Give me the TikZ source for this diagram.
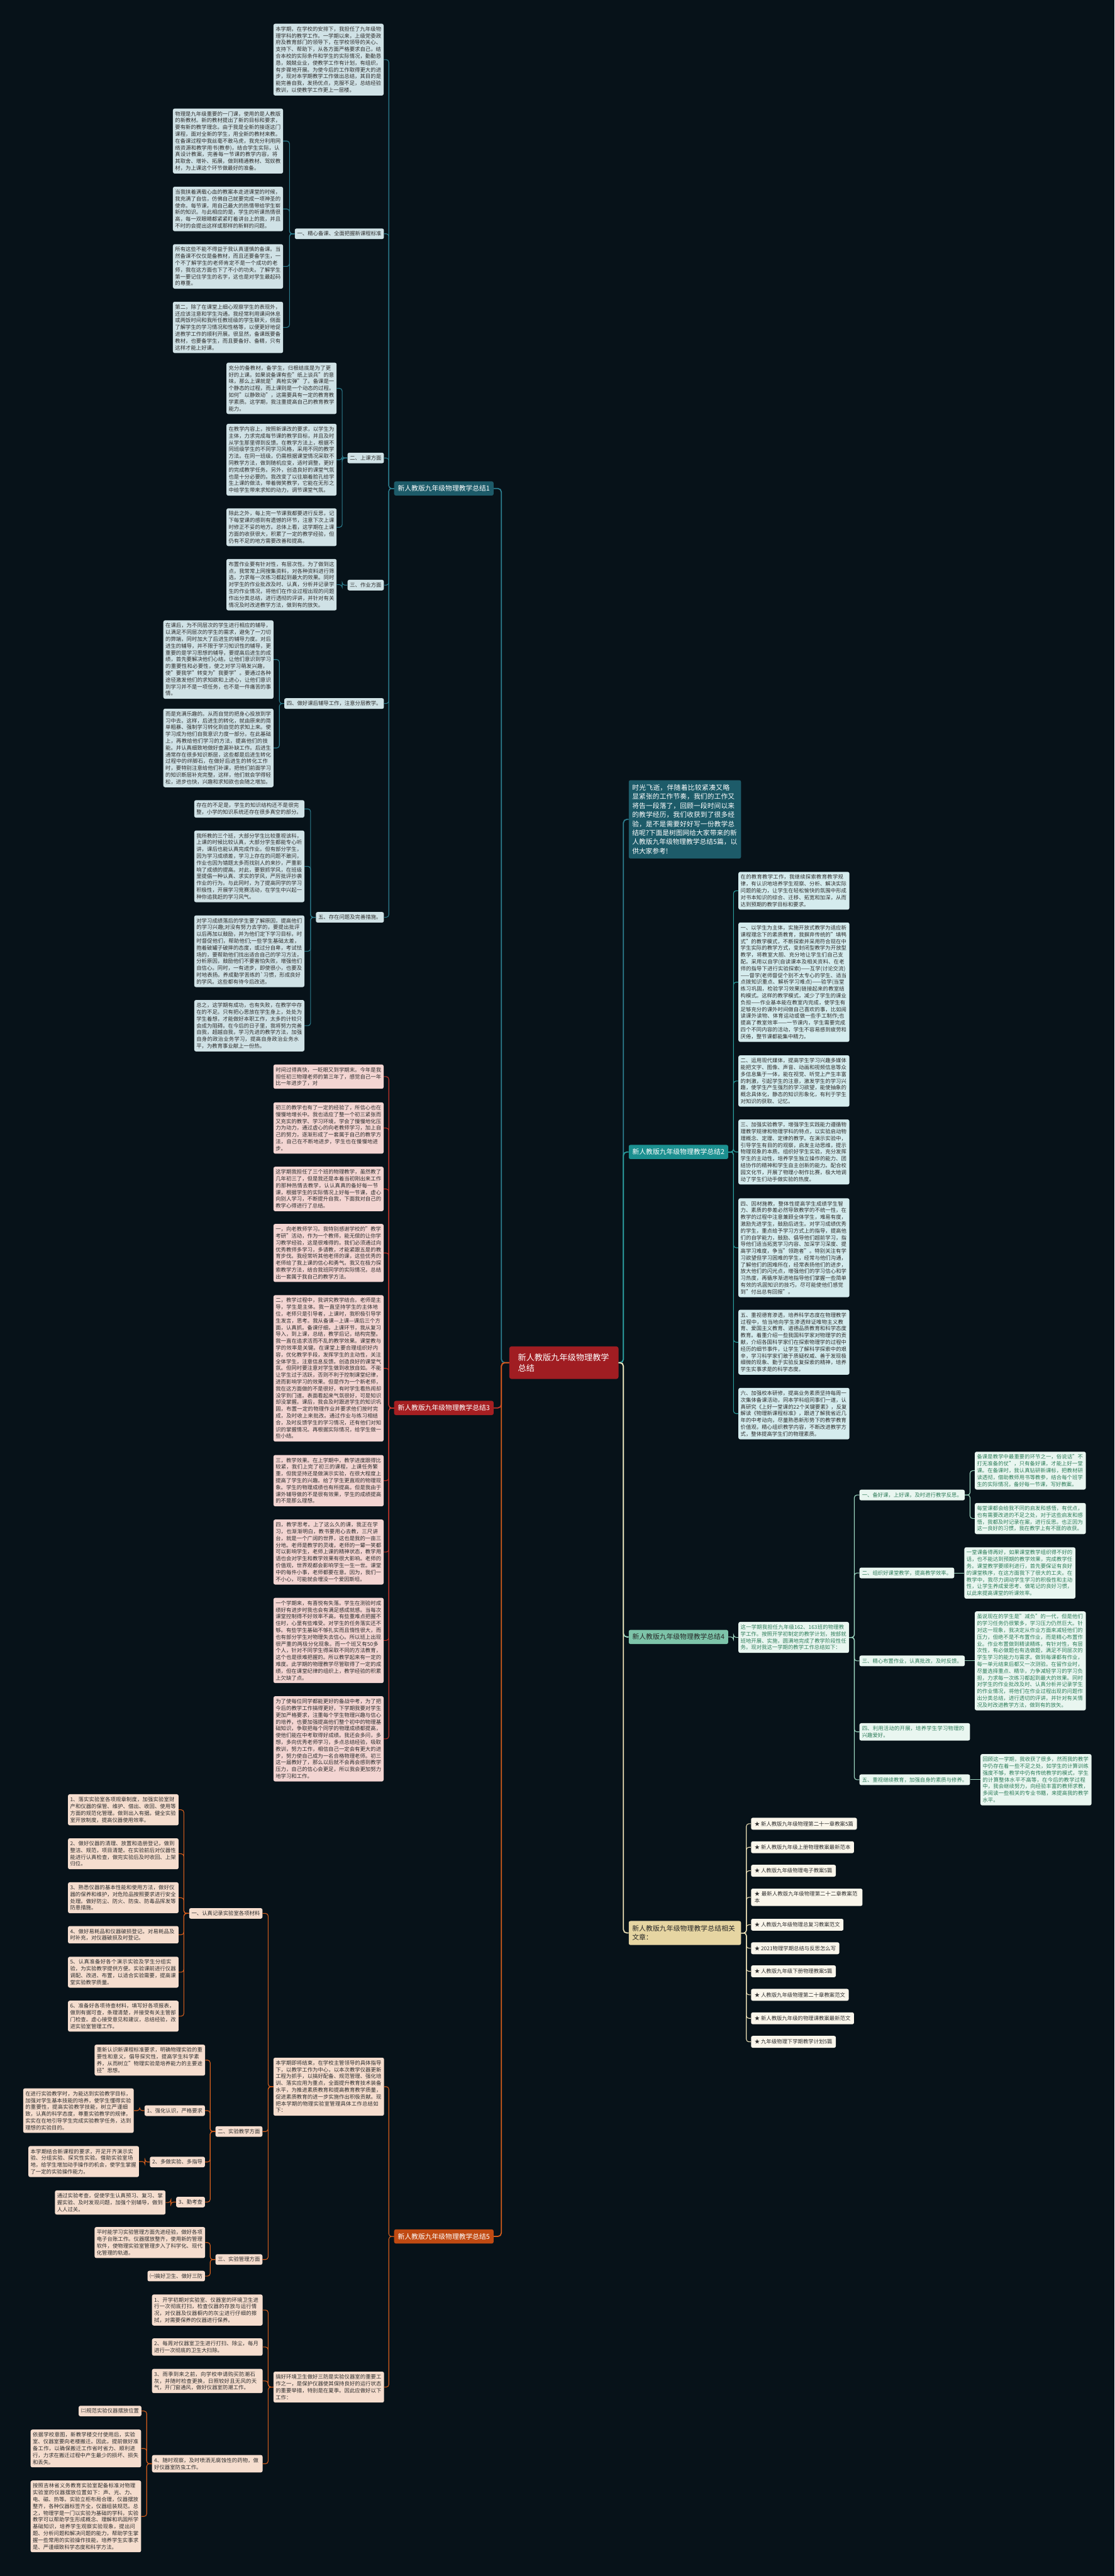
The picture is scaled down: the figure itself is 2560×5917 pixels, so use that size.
\documentclass[tikz,border=0pt]{standalone}
\usepackage{fontspec}
\setmainfont{Noto Sans CJK SC}
\XeTeXlinebreaklocale "zh"
\XeTeXlinebreakskip = 0pt plus 1pt

\definecolor{bgcol}{HTML}{071219}
\definecolor{ctrfill}{HTML}{A01D22}
\definecolor{onefill}{HTML}{1D5B69}
\definecolor{oneleaf}{HTML}{D0E2E6}
\definecolor{oneline}{HTML}{2C7D8E}
\definecolor{twofill}{HTML}{1B9090}
\definecolor{twoleaf}{HTML}{D5ECEE}
\definecolor{twoline}{HTML}{2A9C9C}
\definecolor{threefill}{HTML}{A61F22}
\definecolor{threeleaf}{HTML}{F3D5D2}
\definecolor{threeline}{HTML}{C1342B}
\definecolor{fourfill}{HTML}{7DC4A9}
\definecolor{fourleaf}{HTML}{E9F6F0}
\definecolor{fourtext}{HTML}{2E7D5A}
\definecolor{fourline}{HTML}{9FD9C2}
\definecolor{fivefill}{HTML}{C04A12}
\definecolor{fiveleaf}{HTML}{F5DDCE}
\definecolor{fiveline}{HTML}{D25C1C}
\definecolor{relfill}{HTML}{E6D5A2}
\definecolor{relleaf}{HTML}{FAF6EB}
\definecolor{relline}{HTML}{E9DDB4}

\tikzset{
  box/.style={rounded corners=4pt, inner xsep=5pt, inner ysep=6.5pt,
    font=\fontsize{12.1}{15.6}\selectfont, text=black!82},
  leaf/.style={box, text width=243pt, align=left},
  topic/.style={box, inner xsep=5.5pt},
  branch/.style={rounded corners=4pt, inner xsep=8.5pt, inner ysep=9pt,
    font=\fontsize{15.6}{20.7}\selectfont},
  link/.style={line width=1.6pt, rounded corners=6pt},
  trunk/.style={line width=2.6pt, rounded corners=8pt}
}

\begin{document}
\begin{tikzpicture}[x=1pt, y=-1pt]
\fill[bgcol] (0,0) rectangle (2560,5917);
\useasboundingbox (0,0) rectangle (2560,5917);

% centre
\node[rounded corners=5pt, fill=ctrfill, text=white, anchor=east,
  text width=211pt, align=left, inner xsep=20pt, inner ysep=16pt,
  font=\fontsize{19}{25}\selectfont] (ctr) at (1421,3130) {新人教版九年级物理教学总结};

% main branches
\node[branch, fill=onefill, text=white, anchor=east] (b1) at (1134,1122) {新人教版九年级物理教学总结1};
\node[branch, fill=threefill, text=white, anchor=east] (b3) at (1134,3234) {新人教版九年级物理教学总结3};
\node[branch, fill=fivefill, text=white, anchor=east] (b5) at (1134,5137) {新人教版九年级物理教学总结5};
\node[branch, fill=onefill, text=white, anchor=west, text width=242pt, align=left,
  inner xsep=8pt, inner ysep=10pt, font=\fontsize{15.5}{20.8}\selectfont] (intro) at (1444,1882)
  {时光飞逝，伴随着比较紧凑又略显紧张的工作节奏，我们的工作又将告一段落了，回顾一段时间以来的教学经历，我们收获到了很多经验，是不是需要好好写一份教学总结呢?下面是树图网给大家带来的新人教版九年级物理教学总结5篇，以供大家参考!};
\node[branch, fill=twofill, text=white, anchor=west] (b2) at (1444,2646) {新人教版九年级物理教学总结2};
\node[branch, fill=fourfill, text=black!85, anchor=west] (b4) at (1444,3760) {新人教版九年级物理教学总结4};
\node[branch, fill=relfill, text=black!85, anchor=west, text width=242pt, align=left,
  inner xsep=8pt, inner ysep=10pt] (rel) at (1444,4440) {新人教版九年级物理教学总结相关文章：};

\foreach \b/\c in {b1/oneline, b3/threeline, b5/fiveline}
  \draw[trunk, \c] (ctr.west) -- ++(-18,0) |- (\b.east);
\foreach \b/\c in {intro/oneline, b2/twoline, b4/fourline, rel/relline}
  \draw[trunk, \c] (ctr.east) -- ++(11,0) |- (\b.west);

% ---------- summary 1
\tikzset{leaf1/.style={leaf, fill=oneleaf}, topic1/.style={topic, fill=oneleaf}}
\node[leaf1, anchor=west] (A1) at (628,137) {本学期，在学校的安排下，我担任了九年级物理学科的教学工作。一学期以来，上级党委政府及教育部门的领导下，在学校领导的关心、支持下、帮助下，从各方面严格要求自己，结合本校的实际条件和学生的实际情况，勤勤恳恳，兢兢业业，使教学工作有计划，有组织，有步骤地开展。为使今后的工作取得更大的进步，现对本学期教学工作做出总结，其目的是能完善自我，发扬优点，克服不足，总结经验教训，以使教学工作更上一层楼。};
\node[topic1, anchor=east] (s11) at (882,537) {一、精心备课、全面把握新课程标准};
\node[topic1, anchor=east] (s12) at (882,1052) {二、上课方面};
\node[topic1, anchor=east] (s13) at (882,1344) {三、作业方面};
\node[topic1, anchor=east] (s14) at (882,1616) {四、做好课后辅导工作，注意分层教学。};
\node[topic1, anchor=east] (s15) at (882,2107) {五、存在问题及完善措施。};

\node[leaf1, anchor=west] (B1) at (397,324) {物理是九年级重要的一门课，使用的是人教版的新教材。新的教材提出了新的目标和要求，要有新的教学理念。由于我是全新的接逐这门课程，面对全新的学生，用全新的教材来教。在备课过程中我丝毫不敢马虎，我充分利用网络资源和教学用书(教参)，结合学生实际，认真设计教案，完善每一节课的教学内容，将其取舍、增补、拓展，做到精通教材、驾奴教材，为上课这个环节做最好的准备。};
\node[leaf1, anchor=west] (B2) at (397,480) {当我挟着满载心血的教案本走进课堂的时候，我充满了自信，仿佛自己就要完成一项神圣的使命。每节课，用自己最大的热情带给学生崭新的知识。与此相应的是，学生的听课热情很高，每一双眼睛都紧紧盯着讲台上的我，并且不时的会提出这样或那样的新鲜的问题。};
\node[leaf1, anchor=west] (B3) at (397,612) {所有这些不能不得益于我认真谨慎的备课。当然备课不仅仅是备教材，而且还要备学生，一个不了解学生的老师肯定不是一个成功的老师，我在这方面也下了不小的功夫。了解学生第一要记住学生的名字，这也是对学生最起码的尊重。};
\node[leaf1, anchor=west] (B4) at (397,752) {第二，除了在课堂上细心观察学生的表现外，还应该注意和学生沟通。我经常利用课间休息或两饭时间和我所任教班级的学生聊天，侧面了解学生的学习情况和性格等，以便更好地促进教学工作的顺利开展。很显然，备课既要备教材，也要备学生，而且要备好、备精，只有这样才能上好课。};
\node[leaf1, anchor=west] (C1) at (520,892) {充分的备教材，备学生，归根结底是为了更好的上课。如果说备课有些"纸上谈兵"的意味，那么上课就是"真枪实弹"了。备课是一个静态的过程，而上课则是一个动态的过程。如何"以静致动"，这需要具有一定的教育教学素质。这学期，我注重提高自己的教育教学能力。};
\node[leaf1, anchor=west] (C2) at (520,1056) {在教学内容上，按照新课改的要求，以学生为主体，力求完成每节课的教学目标，并且及时从学生那里得到反馈。在教学方法上，根据不同班级学生的不同学习风格，采用不同的教学方法。在同一班级，仍需根据课堂情况采取不同教学方法，做到随机应变，适时调整，更好的完成教学任务。另外，创造良好的课堂气氛也是十分必要的。我改变了以往崩着脸孔给学生上课的做法，带着微笑教学，它能在无形之中给学生带来求知的动力，调节课堂气氛。};
\node[leaf1, anchor=west] (C3) at (520,1211) {除此之外，每上完一节课我都要进行反思，记下每堂课的感到有遗憾的环节，注意下次上课时修正不妥的地方。总体上看，这学期在上课方面的收获很大，积累了一定的教学经验，但仍有不足的地方需要改善和提高。};
\node[leaf1, anchor=west] (D1) at (520,1343) {布置作业要有针对性，有层次性。为了做到这点，我常常上网搜集资料，对各种资料进行筛选，力求每一次练习都起到最大的效果。同时对学生的作业批改及时、认真，分析并记录学生的作业情况，将他们在作业过程出现的问题作出分类总结，进行透彻的评讲，并针对有关情况及时改进教学方法，做到有的放矢。};
\node[leaf1, anchor=west] (E1) at (375,1515) {在课后，为不同层次的学生进行相应的辅导，以满足不同层次的学生的需求，避免了一刀切的弊端，同时加大了后进生的辅导力度。对后进生的辅导，并不限于学习知识性的辅导，更重要的是学习思想的辅导，要提高后进生的成绩，首先要解决他们心结，让他们意识到学习的重要性和必要性，使之对学习萌发兴趣，使"要我学"转变为"我要学"。要通过各种途径激发他们的求知欲和上进心，让他们意识到学习并不是一项任务，也不是一件痛苦的事情。};
\node[leaf1, anchor=west] (E2) at (375,1718) {而是充满乐趣的。从而自觉的把身心投放到学习中去。这样，后进生的转化，就由原来的简单粗暴、强制学习转化到自觉的求知上来。使学习成为他们自我意识力度一部分。在此基础上，再教给他们学习的方法，提高他们的技能。并认真细致地做好查漏补缺工作。后进生通常存在很多知识断层，这些都是后进生转化过程中的绊脚石，在做好后进生的转化工作时，要特别注意给他们补课，把他们前面学习的知识断层补充完整，这样，他们就会学得轻松，进步也快，兴趣和求知欲也会随之增加。};
\node[leaf1, anchor=west] (F1) at (446,1858) {存在的不足是，学生的知识结构还不是很完整，小学的知识系统还存在很多真空的部分。};
\node[leaf1, anchor=west] (F2) at (446,1990) {我所教的三个班，大部分学生比较重视该科，上课的时候比较认真，大部分学生都能专心听讲，课后也能认真完成作业。但有部分学生，因为学习成绩差，学习上存在的问题不敢问，作业也因为错题太多而找别人的来抄，严重影响了成绩的提高。对此，要狠抓学风，在班级里提倡一种认真、求实的学风，严厉批评抄袭作业的行为。与此同时，为了提高同学的学习积极性，开展学习竞赛活动，在学生中兴起一种你追我赶的学习风气。};
\node[leaf1, anchor=west] (F3) at (446,2185) {对学习成绩落后的学生要了解原因，提高他们的学习兴趣;对没有努力去学的，要提出批评以后再加以鼓励，并为他们定下学习目标，时时督促他们，帮助他们;一些学生基础太差，抱着破罐子破摔的态度，或过分自卑，考试怯场的，要帮助他们找出适合自己的学习方法，分析原因，鼓励他们不要害怕失败，增强他们自信心。同时，一有进步，即使很小，也要及时地表扬。养成勤学苦练的\textasciigrave 习惯，形成良好的学风。这些都有待今后改进。};
\node[leaf1, anchor=west] (F4) at (446,2356) {总之，这学期有成功，也有失败，在教学中存在的不足。只有把心思放在学生身上，处处为学生着想，才能做好本职工作，太多的计较只会成为阻碍。在今后的日子里，我将努力完善自我，超越自我，学习先进的教学方法，加强自身的政治业务学习，提高自身政治业务水平，为教育事业献上一份热。};

\foreach \c in {A1,s11,s12,s13,s14,s15} \draw[link, oneline] (b1.west) -- ++(-12,0) |- (\c.east);
\foreach \c in {B1,B2,B3,B4} \draw[link, oneline] (s11.west) -- ++(-12,0) |- (\c.east);
\foreach \c in {C1,C2,C3} \draw[link, oneline] (s12.west) -- ++(-12,0) |- (\c.east);
\draw[link, oneline] (s13.west) -- ++(-12,0) |- (D1.east);
\foreach \c in {E1,E2} \draw[link, oneline] (s14.west) -- ++(-11,0) |- (\c.east);
\foreach \c in {F1,F2,F3,F4} \draw[link, oneline] (s15.west) -- ++(-12,0) |- (\c.east);

% ---------- summary 3
\tikzset{leaf3/.style={leaf, fill=threeleaf}}
\node[leaf3, anchor=west] (G1) at (628,2473) {时间过得真快，一眨眼又到学期末。今年是我担任初三物理老师的第三年了，感觉自己一年比一年进步了，对};
\node[leaf3, anchor=west] (G2) at (628,2591) {初三的教学也有了一定的经验了，所信心也在慢慢地增长中。我也适应了整一个初三紧张而又充实的教学、学习环境，学会了慢慢地化压力为动力，通过虚心的向老教师学习，加上自己的努力，逐渐形成了一套属于自己的教学方法，自己在不断地进步，学生也在慢慢地进步。};
\node[leaf3, anchor=west] (G3) at (628,2731) {这学期我担任了三个班的物理教学，虽然教了几年初三了，但是我还是本着当初刚出来工作的那种热情去教学，认认真真的备好每一节课，根据学生的实际情况上好每一节课，虚心向别人学习，不断提升自我，下面我对自己的教学心得进行了总结。};
\node[leaf3, anchor=west] (G4) at (628,2878) {一，向老教师学习。我特别感谢学校的"教学考研"活动，作为一个教师，能无偿的让你学习教学经验，这是很难得的。我们必须通过向优秀教师多学习，多请教，才能紧跟五是的教育步伐。我经常听其他老师的课，这些优秀的老师给了我上课的信心和勇气。我又在极力探索教学方法，结合我班同学的实际情况，总结出一套属于我自己的教学方法。};
\node[leaf3, anchor=west] (G5) at (628,3143) {二，教学过程中，我讲究教学结合。老师是主导，学生是主体。我一直坚持学生的主体地位，老师只是引导者，上课时，我积极引导学生发言，思考。我从备课—上课—课后三个方面，认真抓。备课仔细，上课环节，我从复习导入，到上课，总结，教学后记，结构完整。我一直在追求活而不乱的教学效果。课堂教与学的效率是关键。在课堂上要合理组织好内容，优化教学手段，发挥学生的主动性，关注全体学生，注意信息反馈。创造良好的课堂气氛。但同时要注意对学生做到收放自如。不能让学生过于活跃，否则不利于控制课堂纪律，进而影响学习的效果。但是作为一个新老师，我在这方面做的不是很好，有时学生看热闹却没学到门道。表面看起来气氛很好，可是知识却没掌握。课后，我会及时跟进学生的知识巩固，布置一定的物理作业并要求他们按时完成，及时收上来批改。通过作业与练习相结合，及时反馈学生的学习情况，还有他们对知识的掌握情况。再根据实际情况，给学生做一些小结。};
\node[leaf3, anchor=west] (G6) at (628,3401) {三，教学效果。在上学期中，教学进度跟得比较紧，我们上完了初三的课程，上课任务繁重，但我坚持还是做演示实验，在很大程度上提高了学生的兴趣。给了学生更直观的物理现象。学生的物理成绩也有所提高。但是我由于课外辅导做的不是很有效果，学生的成绩提高的不是那么理想。};
\node[leaf3, anchor=west] (G7) at (628,3565) {四，教学思考。上了这么久的课，我正在学习，也渐渐明白，教书要用心去教，三尺讲台，就是一个广阔的世界，这也是我的一亩三分地。老师是教学的灵魂，老师的一颦一笑都可以影响学生，老师上课的精神状态，教学用语也会对学生和教学效果有很大影响。老师的价值观，世界观都会影响学生一生一世。课堂中的每件小事，老师都要在意。因为，我们一不小心，可能就会埋没一个爱因斯坦。};
\node[leaf3, anchor=west] (G8) at (628,3768) {一个学期来，有喜悦有失落。学生在测验时成绩好有进步时我也会有满足感成就感。当每次课堂控制得不好效率不高，有些重难点把握不住时，心里有些难受。对学生的任务落实还不够。有些学生基础不够扎实而且惰性很大，而也有部分学生对物理失去信心。所以班上出现很严重的两极分化现象。而一个班又有50多个人，针对不同学生得采取不同的方法教育，这个也是很难把握的。所以教学起来有一定的难度。此学期的物理教学尽管取得了一定的成绩，但在课堂纪律的组织上，教学经验的积累上欠缺了点。};
\node[leaf3, anchor=west] (G9) at (628,3994) {为了使每位同学都能更好的备战中考，为了把今后的教学工作搞得更好，下学期我要对学生更加严格要求，注重每个学生物理兴趣与信心的培养，也要加强提高他们整个初中的物理基础知识，争取把每个同学的物理成绩都提高，使他们能在中考取得好成绩。我还会多问，多想，多向优秀老师学习，多点总结经验，吸取教训，努力工作，相信自己一定会有更大的进步，努力使自己成为一名合格物理老师。初三这一届教好了，那么以后就不会再会感到教学压力，自己的信心会更足，所以我会更加努力地学习和工作。};
\foreach \c in {G1,G2,G3,G4,G5,G6,G7,G8,G9} \draw[link, threeline] (b3.west) -- ++(-12,0) |- (\c.east);

% ---------- summary 5
\tikzset{leaf5/.style={leaf, fill=fiveleaf, text width=244pt}, topic5/.style={topic, fill=fiveleaf}}
\node[leaf5, anchor=west] (H0) at (628,4793) {本学期即将结束，在学校主管领导的具体指导下，以教学工作为中心，以本次教学仪器更新工程为抓手，以搞好配备、规范管理、强化培训、落实应用为重点，全面提升教育技术装备水平，为推进素质教育和提高教育教学质量，促进素质教育的进一步实施作出积极贡献。现把本学期的物理实验室管理具体工作总结如下：};
\node[leaf5, anchor=west] (H4) at (628,5483) {搞好环境卫生做好三防是实验仪器室的重要工作之一，是保护仪器使其保持良好的运行状态的重要举措，特别是在夏季。因此应做好以下工作：};
\node[topic5, anchor=east] (s51) at (603,4395) {一、认真记录实验室各项材料};
\node[topic5, anchor=east] (s52) at (603,4896) {二、实验教学方面};
\node[topic5, anchor=east] (s53) at (603,5190) {三、实验管理方面};
\node[leaf5, anchor=west] (I1) at (156,4157) {1、落实实验室各项规章制度，加强实验室财产和仪器的保管、维护、借出、收回、使用等方面的规范化管理。做到出入有据。健全实验室开放制度，提高仪器使用效率。};
\node[leaf5, anchor=west] (I2) at (156,4258) {2、做好仪器的清理、放置和造册登记，做到整洁、规范，项目清楚。在实验前后对仪器性能进行认真检查，做完实验后及时收回、上架归位。};
\node[leaf5, anchor=west] (I3) at (156,4359) {3、熟悉仪器的基本性能和使用方法，做好仪器的保养和维护，对危险品按照要求进行安全处理。做好防尘、防火、防虫、防毒品挥发等防患措施。};
\node[leaf5, anchor=west] (I4) at (156,4444) {4、做好易耗品和仪器破损登记。对易耗品及时补充，对仪器破损及时登记。};
\node[leaf5, anchor=west] (I5) at (156,4530) {5、认真准备好各个演示实验及学生分组实验，为实验教学提供方便。实验课前进行仪器调配、改进、布置，以适合实验需要，提高课堂实验教学质量。};
\node[leaf5, anchor=west] (I6) at (156,4631) {6、准备好各项待查材料，填写好各项报表，做到有据可查，条理清楚，并接受有关主管部门检查。虚心接受意见和建议，总结经验，改进实验室管理工作。};
\node[leaf5, anchor=west] (J0) at (217,4732) {重新认识新课程标准要求，明确物理实验的重要性和意义，倡导探究性，提高学生科学素养，从而树立"物理实验是培养能力的主要途径"思想。};
\node[topic5, anchor=east] (t1) at (471,4848) {1、强化认识，严格要求};
\node[topic5, anchor=east] (t2) at (471,4966) {2、多做实验、多指导};
\node[topic5, anchor=east] (t3) at (471,5058) {3、勤考查};
\node[leaf5, anchor=west] (J1) at (53,4848) {在进行实验教学时，为能达到实验教学目标，加强对学生基本技能的培养，使学生懂得实验的重要性，提高实验教学技能，树立严谨细致，认真的科学态度，尊重实验教学的规律，实实在在地引导学生完成实验教学任务，达到理想的实验目的。};
\node[leaf5, anchor=west] (J2) at (65,4965) {本学期结合新课程的要求，开足开齐演示实验、分组实验、探究性实验。借助实验室场地，给学生增加动手操作的机会，使学生掌握了一定的实验操作能力。};
\node[leaf5, anchor=west] (J3) at (126,5059) {通过实验考查，促使学生认真预习、复习、掌握实验、及时发现问题，加强个别辅导，做到人人过关。};
\node[leaf5, anchor=west] (K1) at (217,5151) {平时能学习实验管理方面先进经验，做好各项电子台账工作。仪器摆放整齐，使用新的管理软件，使物理实验室管理步入了科学化、现代化管理的轨道。};
\node[topic5, anchor=east] (K2) at (471,5228) {㈠搞好卫生、做好三防};
\node[leaf5, anchor=west] (L1) at (349,5306) {1、开学初期对实验室、仪器室的环境卫生进行一次彻底打扫，检查仪器的存放与运行情况，对仪器及仪器橱内的灰尘进行仔细的擦拭，对需要保养的仪器进行保养。};
\node[leaf5, anchor=west] (L2) at (349,5391) {2、每周对仪器室卫生进行打扫、除尘，每月进行一次彻底的卫生大扫除。};
\node[leaf5, anchor=west] (L3) at (349,5469) {3、雨季到来之前，向学校申请购买防潮石灰，并随时检查更换，日照较好且无风的天气，开门窗通风，做好仪器室防潮工作。};
\node[leaf5, anchor=west] (L4) at (349,5659) {4、随时观察，及时喷洒无腐蚀性的药物，做好仪器室防虫工作。};
\node[topic5, anchor=east] (M0) at (325,5538) {㈡规范实验仪器摆放位置};
\node[leaf5, anchor=west] (M1) at (70,5624) {依据学校意图，新教学楼交付使用后，实验室、仪器室要向老楼搬迁。因此，提前做好准备工作，以确保搬迁工作省时省力、顺利进行，力求在搬迁过程中产生最少的损坏、损失和丢失。};
\node[leaf5, anchor=west] (M2) at (70,5780) {按照吉林省义务教育实验室配备标准对物理实验室的仪器摆放位置如下：声、光、力、电、磁、热等。实验立柜布局合理，仪器摆放整齐，各种仪器标签齐全，仪器组装规范。总之，物理学是一门以实验为基础的学科，实验教学可以帮助学生形成概念、理解和巩固所学基础知识，培养学生观察实验现象，提出问题、分析问题和解决问题的能力，帮助学生掌握一些常用的实验操作技能，培养学生实事求是、严谨细致科学态度和科学方法。};

\foreach \c in {H0,H4} \draw[link, fiveline] (b5.west) -- ++(-12,0) |- (\c.east);
\foreach \c in {s51,s52,s53} \draw[link, fiveline] (H0.west) -- ++(-12,0) |- (\c.east);
\foreach \c in {I1,I2,I3,I4,I5,I6} \draw[link, fiveline] (s51.west) -- ++(-12,0) |- (\c.east);
\foreach \c in {J0,t1,t2,t3} \draw[link, fiveline] (s52.west) -- ++(-12,0) |- (\c.east);
\draw[link, fiveline] (t1.west) -- ++(-11,0) |- (J1.east);
\draw[link, fiveline] (t2.west) -- ++(-11,0) |- (J2.east);
\draw[link, fiveline] (t3.west) -- ++(-12,0) |- (J3.east);
\foreach \c in {K1,K2} \draw[link, fiveline] (s53.west) -- ++(-12,0) |- (\c.east);
\foreach \c in {L1,L2,L3,L4} \draw[link, fiveline] (H4.west) -- ++(-12,0) |- (\c.east);
\foreach \c in {M0,M1,M2} \draw[link, fiveline] (L4.west) -- ++(-12,0) |- (\c.east);

% ---------- summary 2
\tikzset{leaf2/.style={leaf, fill=twoleaf, text width=245pt}}
\node[leaf2, anchor=west] (N1) at (1696,2046) {在的教育教学工作，我继续探索教育教学规律，有认识地培养学生观察、分析、解决实际问题的能力，让学生在轻松愉快的氛围中形成对书本知识的综合、迁移、拓宽和加深，从而达到预期的教学目标和要求。};
\node[leaf2, anchor=west] (N2) at (1696,2256) {一、以学生为主体，实施开放式教学为适应新课程理念下的素质教育，我摒弃传统的"填鸭式"的教学模式，不断探索并采用符合现在中学生实际的教学方式，变封闭型教学为开放型教学，将教室大胆、充分地让学生们自己支配。采用以自学(自读课本及相关资料、在老师的指导下进行实验探索)——互学(讨论交流)——督学(老师督促个别不太专心的学生、适当点拨知识重点、解析学习难点)——验学(当堂练习巩固，检验学习效果)链接起来的教室结构模式。这样的教学模式，减少了学生的课业负担——作业基本能在教室内完成，使学生有足够充分的课外时间做自己喜欢的事，比如阅读课外读物、体育运动或做一些手工制作;也提高了教室效率——一节课内，学生需要完成四个不同内容的活动，学生不容易感到疲劳和厌倦，整节课都能集中精力。};
\node[leaf2, anchor=west] (N3) at (1696,2483) {二、运用现代媒体，提高学生学习兴趣多媒体能把文字、图像、声音、动画和视频信息等众多信息集于一体，能在视觉、听觉上产生丰富的刺激，引起学生的注意，激发学生的学习兴趣，使学生产生强烈的学习欲望，能使抽象的概念具体化，静态的知识形象化，有利于学生对知识的获取、记忆。};
\node[leaf2, anchor=west] (N4) at (1696,2646) {三、加强实验教学，增强学生实践能力遵循物理教学规律和物理学科的特点，以实验启动物理概念、定理、定律的教学。在演示实验中，引导学生有目的的观察，启发主动思维，提示物理现象的本质。组织好学生实验，充分发挥学生的主动性，培养学生独立操作的能力、团结协作的精神和学生自主创新的能力。配合校园文化节，开展了物理小制作比赛，极大地调动了学生们动手做实验的热度。};
\node[leaf2, anchor=west] (N5) at (1696,2866) {四、因材施教，整体性提高学生成绩学生智力、素质的参差必然导致教学的不统一性，在教学的过程中注意兼顾全体学生，难易有度，激励先进学生，鼓励后进生。对学习成绩优秀的学生，重点给予学习方式上的指导，提高他们的自学能力，鼓励、倡导他们超前学习，指导他们适当拓宽学习内容、加深学习深度、提高学习难度，争当"领跑者"。特别关注有学习欲望但学习困难的学生，经常与他们沟通，了解他们的困难所在，经常表扬他们的进步，放大他们的闪光点，增强他们的学习信心和学习热度，再循序渐进地指导他们掌握一些简单有效的巩固知识的技巧，尽可能使他们感觉到"付出总有回报"。};
\node[leaf2, anchor=west] (N6) at (1696,3083) {五、重视德育渗透，培养科学态度在物理教学过程中，恰当地向学生渗透辩证唯物主义教育、爱国主义教育、道德品质教育和科学态度教育。着重介绍一些我国科学家对物理学的贡献，介绍各国科学家们在探索物理学的过程中经历的细节事件，让学生了解科学探索中的艰辛，学习科学家们敢于质疑权威、善于发现极细微的现象、勤于实验反复探索的精神，培养学生实事求是的科学态度。};
\node[leaf2, anchor=west] (N7) at (1696,3247) {六、加强校本研修，提高业务素质坚持每周一次集体备课活动，同本学科组同事们一道，认真研究《上好一堂课的22个关键要素》，反复解读《物理新课程标准》，跟进了解我省近几年的中考动向，尽量熟悉新形势下的教学教育价值观，精心组织教学内容，不断改进教学方式，整体提高学生们的物理素质。};
\foreach \c in {N1,N2,N3,N4,N5,N6,N7} \draw[link, twoline] (b2.east) -- ++(12,0) |- (\c.west);

% ---------- summary 4
\tikzset{leaf4/.style={leaf, fill=fourleaf, text=fourtext, text width=245pt},
  topic4/.style={topic, fill=fourleaf, text=fourtext, inner xsep=6pt}}
\node[leaf4, anchor=west, text width=244pt] (P0) at (1696,3761) {这一学期我担任九年级162、163班的物理教学工作。按照开学初制定的教学计划，按部就班地开展、实施，圆满地完成了教学阶段性任务。现对我这一学期的教学工作总结如下：};
\node[topic4, anchor=west] (Q1) at (1974,3434) {一、备好课，上好课，及时进行教学反思。};
\node[topic4, anchor=west] (Q2) at (1974,3613) {二、组织好课堂教学，提高教学效率。};
\node[topic4, anchor=west] (Q3) at (1974,3815) {三、精心布置作业，认真批改，及时反馈。};
\node[topic4, anchor=west, text width=242pt, align=left] (Q4) at (1974,3978) {四、利用活动的开展，培养学生学习物理的兴趣爱好。};
\node[topic4, anchor=west] (Q5) at (1974,4088) {五、重视继续教育，加强自身的素质与修养。};
\node[leaf4, anchor=west] (R1a) at (2239,3378) {备课是教学中最重要的环节之一，俗说话"不打无准备的仗"，只有备好课，才能上好一堂课。在备课时，我认真钻研新课标，把教材研读透彻，借助教师用书等教参，结合每个班学生的实际情况，备好每一节课，写好教案。};
\node[leaf4, anchor=west] (R1b) at (2239,3488) {每堂课都会给我不同的启发和感悟，有优点，也有需要改进的不足之处，对于这些启发和感悟，我都及时记录在案，进行反思。也正因为这一良好的习惯，我在教学上有不匪的收获。};
\node[leaf4, anchor=west] (R2) at (2215,3613) {一堂课备得再好，如果课堂教学组织得不好的话，也不能达到预期的教学效果，完成教学任务。课堂教学要顺利进行，首先要保证有良好的课堂秩序，在这方面我下了很大的工夫。在教学中，我尽力调动学生学习的积极性和主动性，让学生养成爱思考、做笔记的良好习惯，以此来提高课堂的听课效率。};
\node[leaf4, anchor=west] (R3) at (2239,3815) {虽说现在的学生是"减负"的一代，但是他们的学习任务仍很繁多，学习压力仍然巨大。针对这一现象，我决定从作业方面来减轻他们的压力，但绝不是不布置作业，而是精心布置作业。作业布置做到精读精练，有针对性，有层次性，有必做题也有选做题，满足不同层次的学生学习的能力与需求。做到每课都有作业，每一单元结束后都又一次测验。在留作业时，尽量选择重点、精华，力争减轻学习的学习负担，力求每一次练习都起到最大的效果。同时对学生的作业批改及时、认真分析并记录学生的作业情况，将他们在作业过程出现的问题作出分类总结，进行透切的评讲，并针对有关情况及时改进教学方法，做到有的放矢。};
\node[leaf4, anchor=west] (R5) at (2252,4088) {回顾这一学期，我收获了很多，然而我的教学中仍存在着一些不足之处，如学生的计算训练强度不够，教学中仍有传统教学的模式，学生的计算整体水平不高等，在今后的教学过程中，我会继续努力，向经验丰富的教师求教，多阅读一些相关的专业书籍，来提高我的教学水平。};
\draw[link, fourline] (b4.east) -- ++(12,0) |- (P0.west);
\foreach \c in {Q1,Q2,Q3,Q4,Q5} \draw[link, fourline] (P0.east) -- ++(12,0) |- (\c.west);
\foreach \c in {R1a,R1b} \draw[link, fourline] (Q1.east) -- ++(12,0) |- (\c.west);
\draw[link, fourline] (Q2.east) -- (R2.west);
\draw[link, fourline] (Q3.east) -- (R3.west);
\draw[link, fourline] (Q5.east) -- (R5.west);

% ---------- related articles
\tikzset{item/.style={box, fill=relleaf, inner xsep=8pt, inner ysep=8pt}}
\node[item, anchor=west] (a1) at (1725,4189) {★ 新人教版九年级物理第二十一章教案5篇};
\node[item, anchor=west] (a2) at (1725,4243) {★ 新人教版九年级上册物理教案最新范本};
\node[item, anchor=west] (a3) at (1725,4297) {★ 人教版九年级物理电子教案5篇};
\node[item, anchor=west, text width=240pt, align=left, inner ysep=6.5pt] (a4) at (1725,4358) {★ 最新人教版九年级物理第二十二章教案范本};
\node[item, anchor=west] (a5) at (1725,4421) {★ 人教版九年级物理总复习教案范文};
\node[item, anchor=west] (a6) at (1725,4475) {★ 2021物理学期总结与反思怎么写};
\node[item, anchor=west] (a7) at (1725,4528) {★ 人教版九年级下册物理教案5篇};
\node[item, anchor=west] (a8) at (1725,4582) {★ 人教版九年级物理第二十章教案范文};
\node[item, anchor=west] (a9) at (1725,4636) {★ 新人教版九年级的物理课教案最新范文};
\node[item, anchor=west] (a10) at (1725,4690) {★ 九年级物理下学期教学计划5篇};
\foreach \c in {a1,a2,a3,a4,a5,a6,a7,a8,a9,a10} \draw[link, relline] (rel.east) -- ++(12,0) |- (\c.west);

\end{tikzpicture}
\end{document}
